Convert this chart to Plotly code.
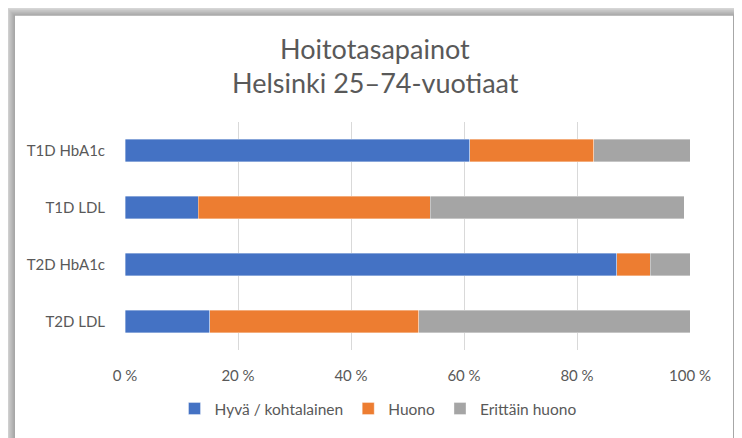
import plotly.graph_objects as go

categories = ["T1D HbA1c", "T1D LDL", "T2D HbA1c", "T2D LDL"]
series_names = ["Hyvä / kohtalainen", "Huono", "Erittäin huono"]
good = [61, 13, 87, 15]
poor = [22, 41, 6, 37]
very_poor = [17, 45, 7, 48]
colors = ["#4472C4", "#ED7D31", "#A5A5A5"]
tick_values = [0, 20, 40, 60, 80, 100]
tick_labels = ["0 %", "20 %", "40 %", "60 %", "80 %", "100 %"]
title_lines = ["Hoitotasapainot", "Helsinki 25–74-vuotiaat"]

FONT = "Lato"
TXT = "#595959"

# page body has an 8px margin; work in screen pixels and convert
OFF = 8
SW, SH = 742, 438
W, H = SW - OFF, SH - OFF
PL, PR, PT, PB = 125, 690, 122, 354  # plot area in screen px
L, R, T, B = PL - OFF, SW - PR, PT - OFF, SH - PB


def px(x):
    return (x - PL) / (PR - PL)


def py(y):
    return (PB - y) / (PB - PT)


fig = go.Figure()
for name, vals, col in zip(series_names, [good, poor, very_poor], colors):
    fig.add_trace(go.Bar(
        y=categories, x=vals, name=name, orientation="h",
        marker=dict(color=col, line=dict(width=0.6, color="rgba(255,255,255,0.6)")),
        width=0.4,
    ))

shapes = []
for k in range(1, 11):
    shapes.append(dict(
        type="rect", xref="paper", yref="paper", layer="below",
        x0=px(15 - k * 1.2), y0=py(480), x1=px(733 + k * 0.9 + 1), y1=py(14 - k * 1.2),
        fillcolor="rgba(0,0,0,0.04)", line=dict(width=0),
    ))
shapes.append(dict(
    type="rect", xref="paper", yref="paper", layer="below",
    x0=px(15), y0=py(480), x1=px(733), y1=py(14),
    fillcolor="white", line=dict(width=0),
))

annotations = []
for line, yy in zip(title_lines, [47, 82]):
    annotations.append(dict(
        text=line, xref="paper", yref="paper", x=px(375), y=py(yy),
        xanchor="center", yanchor="middle", showarrow=False,
        font=dict(family=FONT, size=27, color=TXT),
    ))

fig.update_layout(
    width=W, height=H,
    margin=dict(l=L, r=R, t=T, b=B),
    barmode="stack",
    paper_bgcolor="white",
    plot_bgcolor="rgba(0,0,0,0)",
    font=dict(family=FONT, color=TXT, size=15),
    xaxis=dict(
        range=[0, 100], tickvals=tick_values, ticktext=tick_labels,
        showgrid=True, gridcolor="#D9D9D9", gridwidth=1,
        zeroline=False, showline=False,
        ticks="outside", ticklen=12, tickcolor="rgba(0,0,0,0)",
        tickfont=dict(family=FONT, size=15, color=TXT),
        fixedrange=True,
    ),
    yaxis=dict(
        range=[3.5, -0.5], showgrid=False, zeroline=False, showline=False,
        ticks="outside", ticklen=16, tickcolor="rgba(0,0,0,0)",
        tickfont=dict(family=FONT, size=15, color=TXT),
    ),
    legend=dict(
        orientation="h", x=px(378), xanchor="center", y=py(414), yanchor="middle",
        font=dict(family=FONT, size=15.5, color=TXT),
        traceorder="normal", itemclick=False, itemwidth=30,
    ),
    shapes=shapes,
    annotations=annotations,
    showlegend=True,
)

fig.write_html("out.html")
